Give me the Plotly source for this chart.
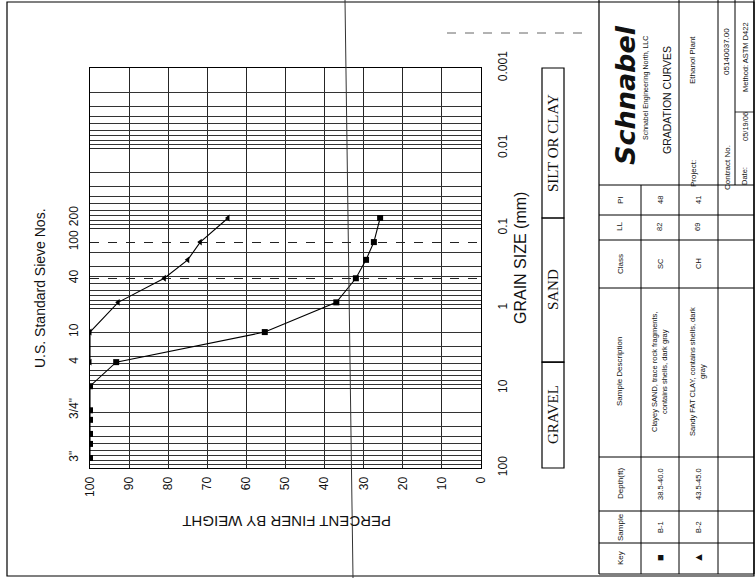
import math
import plotly.graph_objects as go

W, H = 755, 580

# ---------------- data ----------------
b1_size_mm = [75, 50, 37.5, 25, 19, 9.5, 4.75, 2.0, 0.85, 0.425, 0.25, 0.15, 0.075]
b1_pct_finer = [100, 100, 100, 100, 100, 100, 93.3, 55.3, 37.0, 32.0, 29.4, 27.4, 25.8]
b2_size_mm = [4.75, 2.0, 0.85, 0.425, 0.25, 0.15, 0.075]
b2_pct_finer = [100, 100, 92.8, 81.0, 75.0, 71.8, 64.7]

pct_ticks = [100, 90, 80, 70, 60, 50, 40, 30, 20, 10, 0]
size_ticks = [0.001, 0.01, 0.1, 1, 10, 100]
size_tick_labels = ["0.001", "0.01", "0.1", "1", "10", "100"]
sieve_ticks_mm = [75, 19, 4.75, 2.0, 0.425, 0.15, 0.075]
sieve_tick_labels = ['3"', '3/4"', '4', '10', '40', '100', '200']
minor_sizes = [m * 10 ** k for k in range(-3, 2) for m in range(2, 10)]
dashed_sieve_mm = [0.425, 0.15]
soil_bounds_mm = [0.001, 0.075, 4.75, 100]
soil_labels = ["SILT OR CLAY", "SAND", "GRAVEL"]

table_headers = ["Key", "Sample", "Depth(ft)", "Sample Description", "Class", "LL", "PI"]
keys = ["■", "▲"]
samples = ["B-1", "B-2"]
depths = ["38.5-40.0", "43.5-45.0"]
descriptions = ["Clayey SAND, trace rock fragments,<br>contains shells, dark gray",
                "Sandy FAT CLAY, contains shells, dark<br>gray"]
classes = ["SC", "CH"]
liquid_limits = ["82", "69"]
plasticity = ["48", "41"]

# ---------------- layout helpers ----------------
def px(x):
    return x / W

def py(y):
    return 1 - y / H

PL, PR, PT, PB = 90, 481, 68, 468
Y_RANGE = [2, -3]          # log10 of grain size at bottom / top
DOM_Y = [py(PB), py(PT)]

def size_to_paper(mm):
    f = (math.log10(mm) - Y_RANGE[0]) / (Y_RANGE[1] - Y_RANGE[0])
    return DOM_Y[0] + f * (DOM_Y[1] - DOM_Y[0])

GRID = "#262626"
SANS = "Liberation Sans, Arial, sans-serif"
SERIF = "Liberation Serif, Times New Roman, serif"
NARROW = "Liberation Sans Narrow, Arial Narrow, Liberation Sans, sans-serif"

fig = go.Figure()
fig.add_trace(go.Scatter(x=b1_pct_finer, y=b1_size_mm, mode="lines+markers", name="B-1",
                         line=dict(color="black", width=1.1),
                         marker=dict(symbol="square", size=6, color="black")))
fig.add_trace(go.Scatter(x=b2_pct_finer, y=b2_size_mm, mode="lines+markers", name="B-2",
                         line=dict(color="black", width=1.1),
                         marker=dict(symbol="triangle-left", size=6, color="black")))
for ax in ["y2", "y3", "y4"]:
    fig.add_trace(go.Scatter(x=[None], y=[None], yaxis=ax, showlegend=False, hoverinfo="skip"))

common_y = dict(type="log", range=Y_RANGE, domain=DOM_Y, zeroline=False, fixedrange=True,
                automargin=False)

fig.update_layout(
    template="none",
    width=W, height=H, autosize=False,
    margin=dict(l=0, r=0, t=0, b=0, pad=0),
    paper_bgcolor="white", plot_bgcolor="white",
    showlegend=False,
    xaxis=dict(domain=[px(PL), px(PR)], range=[100, 0], tickvals=pct_ticks,
               ticktext=[str(v) for v in pct_ticks], tickangle=-90,
               tickfont=dict(family=SANS, size=12, color="#111"),
               showgrid=True, gridcolor=GRID, gridwidth=1,
               showline=True, mirror=True, linecolor="black", linewidth=1.2,
               ticks="", zeroline=False, anchor="y", ticklabelstandoff=3,
               automargin=False, fixedrange=True),
    yaxis=dict(**common_y, tickvals=size_ticks, ticktext=size_tick_labels, side="right",
               tickangle=-90, tickfont=dict(family=SANS, size=12, color="#111"),
               showgrid=True, gridcolor=GRID, gridwidth=1.2,
               showline=True, mirror=True, linecolor="black", linewidth=1.2,
               ticks="", anchor="x", ticklabelstandoff=10),
    yaxis2=dict(**common_y, overlaying="y", side="left", anchor="x",
                tickvals=sieve_ticks_mm, ticktext=sieve_tick_labels, tickangle=-90,
                tickfont=dict(family=SANS, size=12, color="#111"),
                showgrid=False, ticks="", ticklabelstandoff=9),
    yaxis3=dict(**common_y, overlaying="y", side="left", anchor="x",
                tickvals=minor_sizes, showticklabels=False, ticks="",
                showgrid=True, gridcolor="#333333", gridwidth=0.9),
    yaxis4=dict(**common_y, overlaying="y", side="left", anchor="x",
                tickvals=dashed_sieve_mm, showticklabels=False, ticks="",
                showgrid=True, gridcolor="#222222", gridwidth=1.2, griddash="dash"),
)

ann = []
def text(x, y, s, size=8, angle=-90, family=SANS, **kw):
    ann.append(dict(x=px(x), y=py(y), xref="paper", yref="paper", text=s, showarrow=False,
                    textangle=angle, font=dict(family=family, size=size, color="#111"),
                    xanchor="center", yanchor="middle", **kw))

text(40, 288, "U.S. Standard Sieve Nos.", size=14)
text(520, 258, "GRAIN SIZE (mm)", size=16)
text(287, 522, "PERCENT FINER BY WEIGHT", size=15, angle=180)

shapes = []
def line(x0, y0, x1, y1, w=1, color="black", dash="solid"):
    shapes.append(dict(type="line", xref="paper", yref="paper", x0=px(x0), y0=py(y0),
                       x1=px(x1), y1=py(y1), line=dict(color=color, width=w, dash=dash)))

# soil classification box aligned with the grain-size axis
BX0, BX1 = 542, 564
for i, lab in enumerate(soil_labels):
    lo, hi = soil_bounds_mm[i], soil_bounds_mm[i + 1]
    shapes.append(dict(type="rect", xref="paper", yref="paper", x0=px(BX0), x1=px(BX1),
                       y0=size_to_paper(hi), y1=size_to_paper(lo),
                       line=dict(color="black", width=1.2)))
    ann.append(dict(x=px((BX0 + BX1) / 2), y=(size_to_paper(lo) + size_to_paper(hi)) / 2,
                    xref="paper", yref="paper", text=lab, showarrow=False, textangle=-90,
                    xanchor="center", yanchor="middle",
                    font=dict(family=SERIF, size=15, color="#111")))

# outer page frame and scan artefacts
shapes.append(dict(type="rect", xref="paper", yref="paper", x0=px(7), y0=py(576), x1=px(754),
                   y1=py(2), line=dict(color="black", width=1.2)))
line(345, 0, 353, 578, w=1, color="#333")
line(447, 33, 583, 33, w=1, color="#666", dash="dash")

# table grid
TL, TR = 599, 754
line(TL, 0, TL, 574, 1.2)
line(TR, 0, TR, 574, 1.2)
line(679, 0, 679, 574, 1)
line(718, 0, 718, 574, 1)
line(641, 185, 641, 574, 1)
line(735, 0, 735, 185, 1)
for yy in [185, 215, 240, 288, 457, 511, 543, 574]:
    line(TL, yy, TR, yy, 1)
line(735, 112, 754, 112, 0.8)

col_y = [558, 527, 484, 372, 264, 227, 200]
for h, yy in zip(table_headers, col_y):
    text(620, yy, h, size=8, family=NARROW)
row_x = [660, 698]
for i, xx in enumerate(row_x):
    vals = [keys[i], samples[i], depths[i], descriptions[i], classes[i], liquid_limits[i], plasticity[i]]
    for v, yy in zip(vals, col_y):
        text(xx, yy, v, size=(11 if v in keys else 7.5), family=NARROW)

# title block
text(626, 95, "<b><i>Schnabel</i></b>", size=27, family="DejaVu Sans, sans-serif")
text(646, 88, "Schnabel Engineering North, LLC", size=7, family=NARROW)
text(667, 100, "GRADATION CURVES", size=10.5, family=SANS)
text(693, 174, "Project:", size=8, family=NARROW)
text(693, 60, "Ethanol Plant", size=8, family=NARROW)
text(727, 168, "Contract No.", size=8, family=NARROW)
text(727, 52, "05140037.00", size=8, family=NARROW)
text(745, 176, "Date:", size=7.5, family=NARROW)
text(745, 127, "05/19/06", size=7.5, family=NARROW)
text(745, 57, "Method: ASTM D422", size=7.5, family=NARROW)

fig.update_layout(annotations=ann, shapes=shapes)
fig.write_html("out.html", config={"displayModeBar": False},
               post_script="document.body.style.margin='0px';document.body.style.overflow='hidden';")
